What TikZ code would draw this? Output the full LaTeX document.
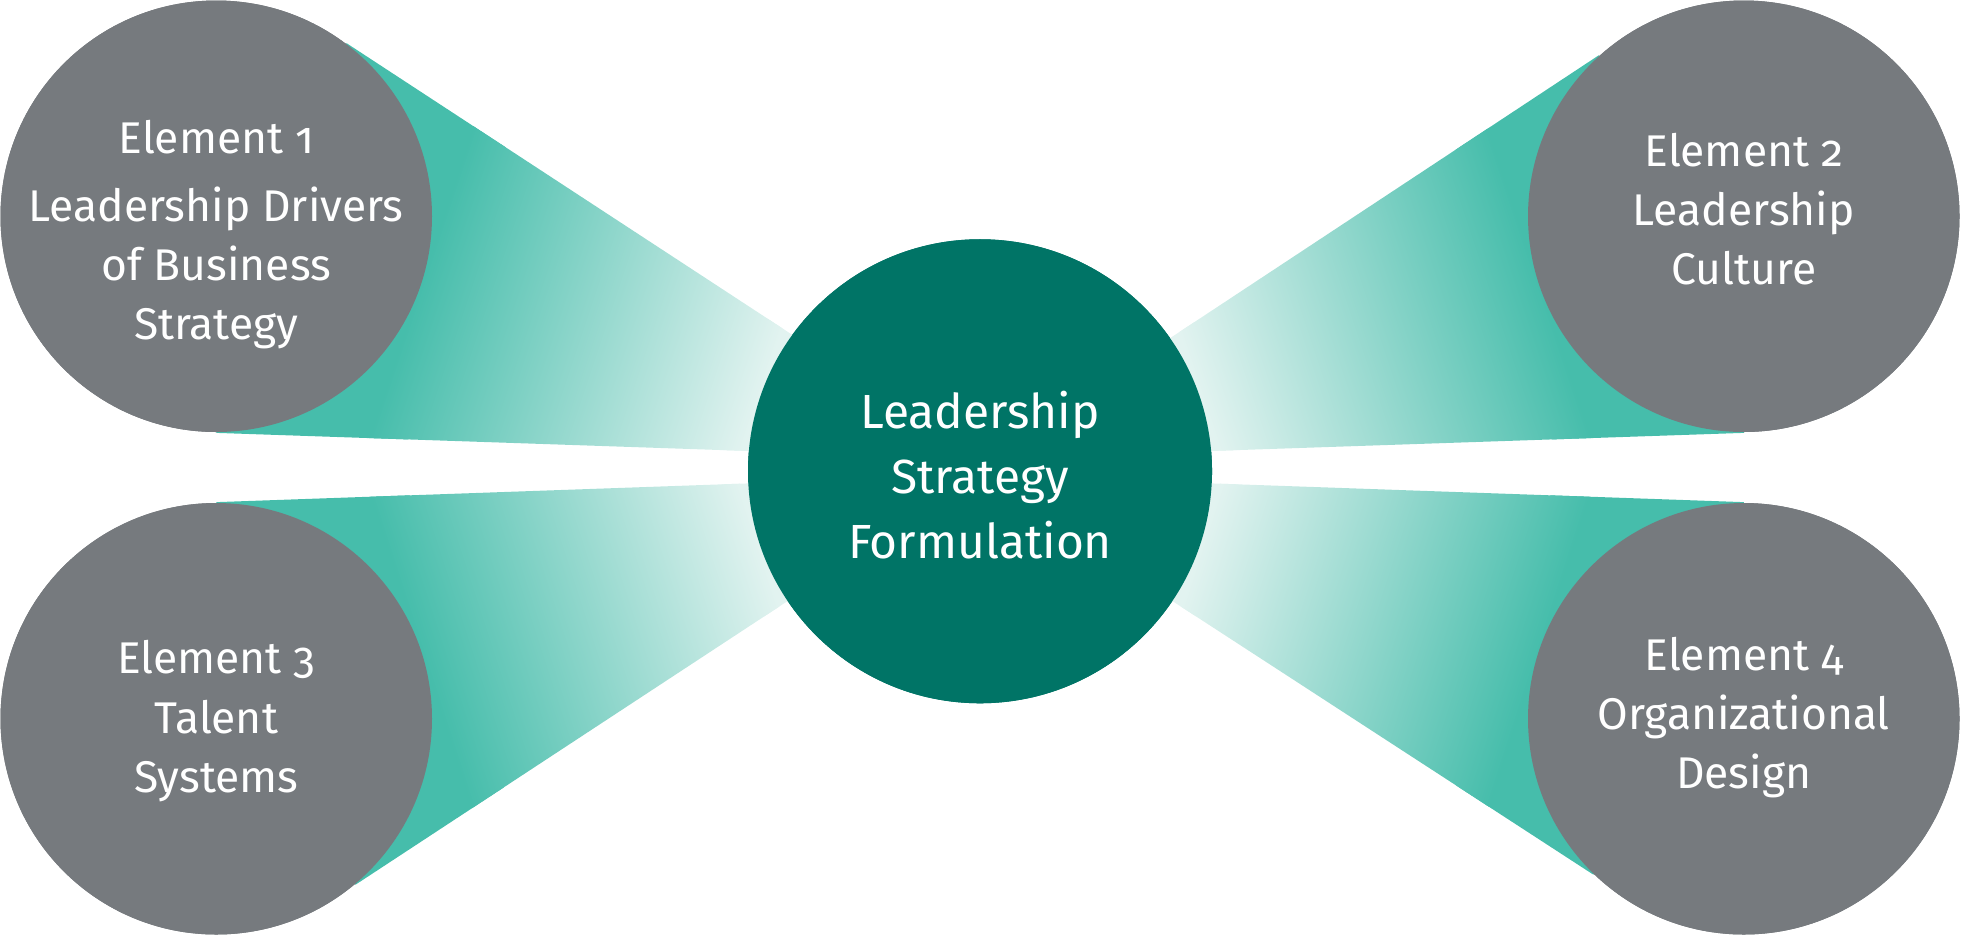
\documentclass[tikz,border=0pt]{standalone}
\usepackage{fontspec}
\setmainfont{Fira Sans}[Numbers=OldStyle]
\definecolor{elemgray}{RGB}{118,122,126}
\definecolor{coregreen}{RGB}{0,116,102}
\definecolor{beamteal}{RGB}{70,189,171}
\definecolor{beamlight}{RGB}{226,243,240}
\newcommand{\drawbeam}[3]{%
  \begin{scope}
    \clip #1;
    \begin{scope}[transform canvas={shift={(784,377)},rotate=#2}]
      \fill[beamlight] (-10,-600) rectangle (200,600);
      \fill[beamteal] (#3-30,-600) rectangle (1100,600);
      \shade[left color=beamlight,right color=beamteal] (186,-600) rectangle (#3,600);
    \end{scope}
  \end{scope}}
\begin{document}
\begin{tikzpicture}[x=0.01cm,y=-0.01cm,
  elem/.style={circle,fill=elemgray,draw=none,minimum size=3.45cm,inner sep=0pt},
  core/.style={circle,fill=coregreen,draw=none,minimum size=3.71cm,inner sep=0pt},
  elemtext/.style={anchor=base,text=white,inner sep=0pt,font=\fontsize{10.1}{13.5}\selectfont},
  coretext/.style={anchor=base,text=white,inner sep=0pt,font=\fontsize{10.9}{14.8}\selectfont}]
\useasboundingbox (0,0) rectangle (1568.8,748);
% circle nodes (positions)
\path (173,173) node[elem] (e1) {};
\path (1395,173) node[elem] (e2) {};
\path (173,575) node[elem] (e3) {};
\path (1395,575) node[elem] (e4) {};
\path (784,377) node[core] (c) {};
% beams
\drawbeam{(e1.center) -- (e1.53) -- (c.144.5) -- (c.center) -- (c.175) -- (e1.270) -- cycle}{161.54}{472}
\drawbeam{(e2.center) -- (e2.132) -- (c.35.5) -- (c.center) -- (c.5) -- (e2.270) -- cycle}{18.46}{472}
\drawbeam{(e3.center) -- (e3.310) -- (c.214) -- (c.center) -- (c.183) -- (e3.90) -- cycle}{197.96}{470}
\drawbeam{(e4.center) -- (e4.226) -- (c.326) -- (c.center) -- (c.357) -- (e4.90) -- cycle}{-17.96}{470}
% circles on top
\node[elem] at (e1.center) {};
\node[elem] at (e2.center) {};
\node[elem] at (e3.center) {};
\node[elem] at (e4.center) {};
\node[core] at (c.center) {};
% texts
\node[elemtext] (t1) at (173,123) {\begin{tabular}[t]{@{}c@{}}Element 1\\[1.85pt] Leadership Drivers\\ of Business\\ Strategy\end{tabular}};
\node[elemtext] (t2) at (1395,133) {\begin{tabular}[t]{@{}c@{}}Element 2\\ Leadership\\ Culture\end{tabular}};
\node[elemtext] (t3) at (173,539) {\begin{tabular}[t]{@{}c@{}}Element 3\\ Talent\\ Systems\end{tabular}};
\node[elemtext] (t4) at (1395,536) {\begin{tabular}[t]{@{}c@{}}Element 4\\ Organizational\\ Design\end{tabular}};
\node[coretext] (ct) at (784,342.6) {\begin{tabular}[t]{@{}c@{}}Leadership\\ Strategy\\ Formulation\end{tabular}};
\end{tikzpicture}
\end{document}
